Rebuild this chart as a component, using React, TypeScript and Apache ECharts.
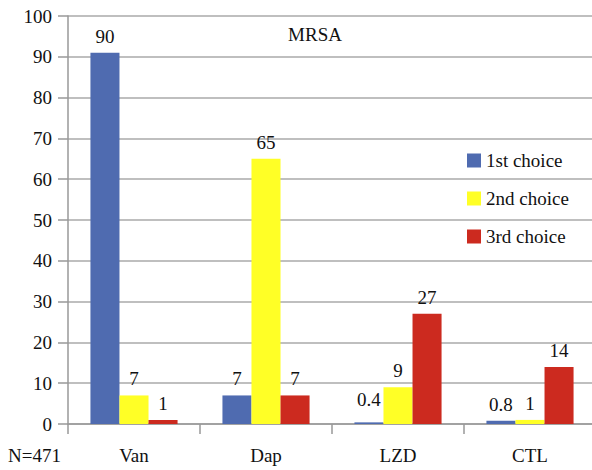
import React, { useEffect, useRef } from "react";
import * as echarts from "echarts";

const categories = ["Van", "Dap", "LZD", "CTL"];
const seriesNames = ["1st choice", "2nd choice", "3rd choice"];
const firstChoice = [91, 7, 0.4, 0.8];
const secondChoice = [7, 65, 9, 1];
const thirdChoice = [1, 7, 27, 14];
const firstLabels = ["90", "7", "0.4", "0.8"];
const secondLabels = ["7", "65", "9", "1"];
const thirdLabels = ["1", "7", "27", "14"];
const yTicks = [0, 10, 20, 30, 40, 50, 60, 70, 80, 90, 100];
const colors = ["#4F6BB0", "#FFFF26", "#CC2A1F"];
const FONT = "Liberation Serif";

export default function App() {
  const ref = useRef<HTMLDivElement>(null);
  useEffect(() => {
    if (!ref.current) return;
    const chart = echarts.init(ref.current, null, { renderer: "svg" });
    const values = [firstChoice, secondChoice, thirdChoice];
    const labels = [firstLabels, secondLabels, thirdLabels];
    const series = values.map((vals, si) => ({
      name: seriesNames[si],
      type: "bar",
      barGap: "0%",
      barCategoryGap: "34%",
      itemStyle: { color: colors[si] },
      label: {
        show: true,
        position: "top",
        distance: 7,
        fontFamily: FONT,
        fontSize: 19,
        color: "#111",
        formatter: (p: any) => labels[si][p.dataIndex],
      },
      data: vals.map((v, i) =>
        si === 0 && i === 2 ? { value: v, label: { offset: [0, -6] } } : v
      ),
    }));
    chart.setOption({
      animation: false,
      textStyle: { fontFamily: FONT },
      grid: { left: 68, right: 4, top: 16, bottom: 46 },
      title: {
        text: "MRSA",
        left: 310,
        top: 20,
        textAlign: "center",
        textStyle: { fontFamily: FONT, fontSize: 19, fontWeight: "normal", color: "#111" },
      },
      legend: {
        orient: "vertical",
        left: 462,
        top: 146,
        itemWidth: 14,
        itemHeight: 14,
        itemGap: 19,
        icon: "rect",
        textStyle: { fontFamily: FONT, fontSize: 19, color: "#111" },
        data: seriesNames,
      },
      xAxis: {
        type: "category",
        data: categories,
        axisLine: { lineStyle: { color: "#999", width: 1.5 } },
        axisTick: { show: true, length: 10, lineStyle: { color: "#999", width: 1.5 } },
        axisLabel: { fontFamily: FONT, fontSize: 19, color: "#111", margin: 22 },
      },
      yAxis: {
        type: "value",
        min: yTicks[0],
        max: yTicks[yTicks.length - 1],
        interval: 10,
        axisLine: { show: true, lineStyle: { color: "#999", width: 1.5 } },
        axisTick: { show: true, length: 10, lineStyle: { color: "#999", width: 1.5 } },
        axisLabel: { fontFamily: FONT, fontSize: 19, color: "#111", margin: 16 },
        splitLine: { lineStyle: { color: "#AAA", width: 1.5 } },
      },
      graphic: [
        {
          type: "text",
          left: 8,
          top: 446,
          style: { text: "N=471", fontFamily: FONT, fontSize: 19, fill: "#111" },
        },
      ],
      series,
    });
    return () => chart.dispose();
  }, []);
  return (
    <div style={{ position: "absolute", left: 0, top: 0, width: 592, height: 470, overflow: "hidden", background: "#fff" }}>
      <div ref={ref} style={{ width: 600, height: 470 }} />
    </div>
  );
}
